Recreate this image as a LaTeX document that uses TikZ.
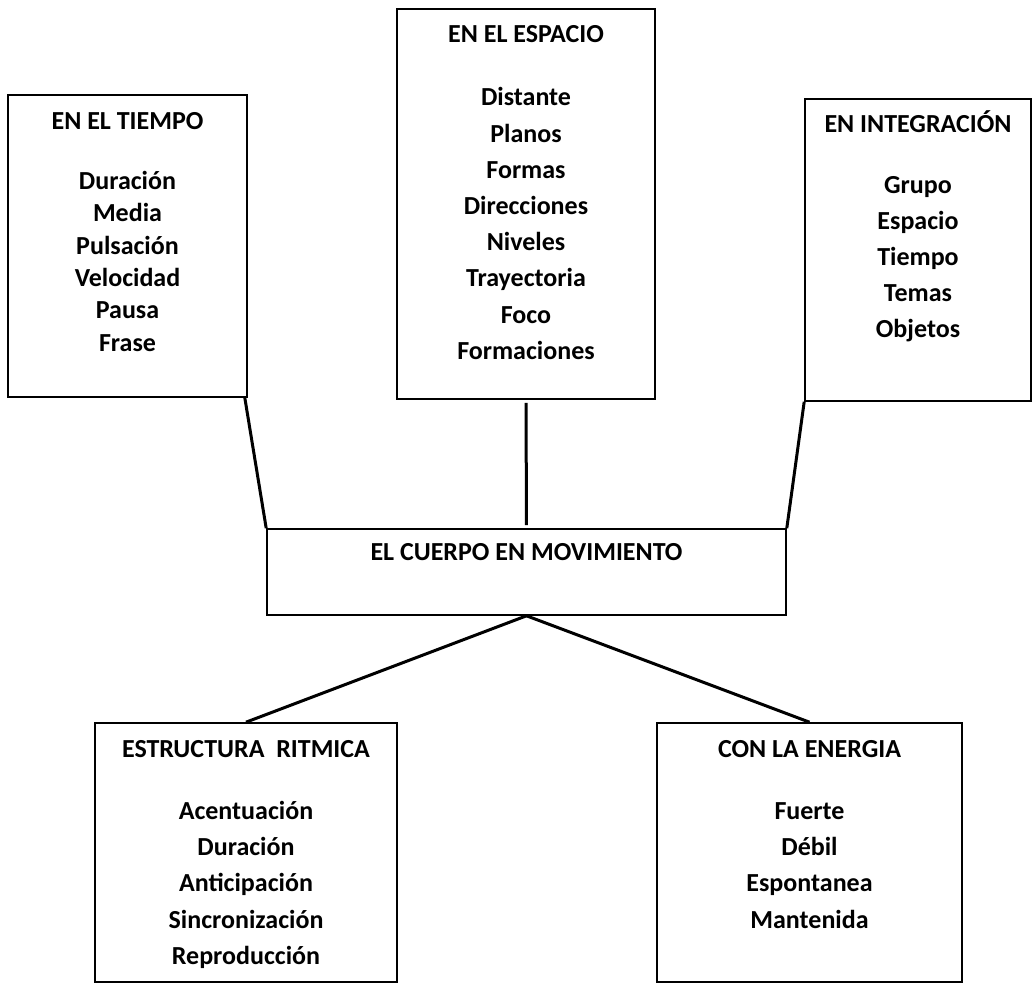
\documentclass[tikz,border=0pt]{standalone}
\usepackage{fontspec}
\setmainfont{Carlito}
\usepackage{tikz}
\usetikzlibrary{positioning}
\tikzstyle{catbox}=[draw,line width=1.6pt,inner sep=0pt]
\tikzstyle{cattext}=[inner sep=0pt,align=center,font=\fontsize{26}{36.2}\selectfont\bfseries]
\tikzstyle{link}=[line width=3pt]
\newcommand{\topstrut}{\rule{0pt}{24pt}}

\begin{document}
\begin{tikzpicture}[x=1pt,y=1pt]
\useasboundingbox (0,0) rectangle (1034,998);
% the six boxes
\node [catbox,minimum width=239pt,minimum height=302pt] (tiempo) at (127.5,752) {};
\node [catbox,minimum width=258pt,minimum height=390pt] (espacio) at (526,794) {};
\node [catbox,minimum width=226pt,minimum height=302pt] (integr) at (918,748) {};
\node [catbox,minimum width=519pt,minimum height=86pt] (cuerpo) at (526.5,426) {};
\node [catbox,minimum width=302pt,minimum height=259pt] (ritmica) at (246,145.5) {};
\node [catbox,minimum width=305pt,minimum height=259pt] (energia) at (809.5,145.5) {};

% texts
\node [cattext,below=11pt of tiempo.north,font=\fontsize{26}{32.4}\selectfont\bfseries] (tiempotxt)
    {\topstrut EN EL TIEMPO\\[27.6pt] Duración\\ Media\\ Pulsación\\ Velocidad\\ Pausa\\ Frase};
\node [cattext,below=10pt of espacio.north] (espaciotxt)
    {\topstrut EN EL ESPACIO\\[27.3pt] Distante\\ Planos\\ Formas\\ Direcciones\\ Niveles\\ Trayectoria\\ Foco\\ Formaciones};
\node [cattext,below=10pt of integr.north] (integrtxt)
    {\topstrut EN INTEGRACIÓN\\[24.5pt] Grupo\\ Espacio\\ Tiempo\\ Temas\\ Objetos};
\node [cattext,below=8pt of cuerpo.north] (cuerpotxt) {\topstrut EL CUERPO EN MOVIMIENTO};
\node [cattext,below=11pt of ritmica.north] (ritmicatxt)
    {\topstrut ESTRUCTURA\ \ RITMICA\\[26pt] Acentuación\\ Duración\\ Anticipación\\ Sincronización\\ Reproducción};
\node [cattext,below=11pt of energia.north] (energiatxt)
    {\topstrut CON LA ENERGIA\\[26pt] Fuerte\\ Débil\\ Espontanea\\ Mantenida};

% connectors
\draw [link] ([xshift=-3pt]tiempo.south east) -- (cuerpo.north west);
\draw [link,shorten <=3pt,shorten >=3pt] (espacio.south) -- (cuerpo.north);
\draw [link] (integr.south west) -- (cuerpo.north east);
\draw [link] (cuerpo.south) -- (ritmica.north);
\draw [link] (cuerpo.south) -- (energia.north);
\end{tikzpicture}
\end{document}
